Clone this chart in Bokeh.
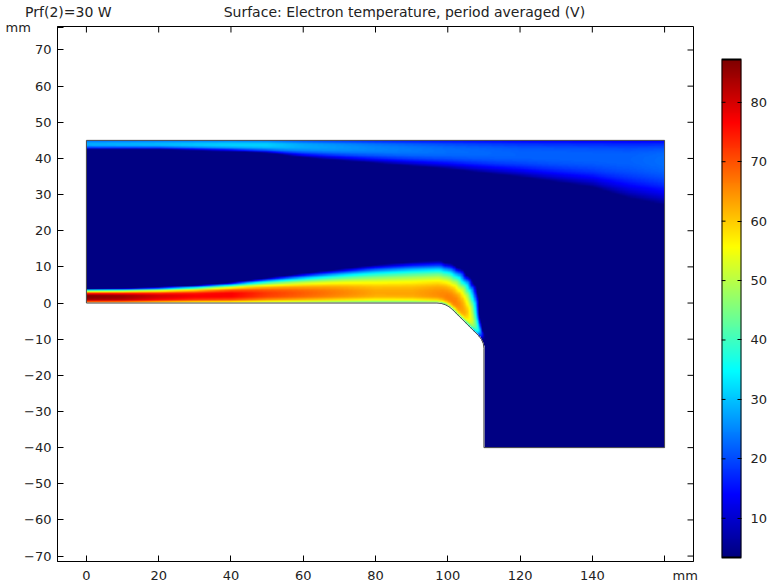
import numpy as np
from bokeh.plotting import figure
from bokeh.models import Range1d, LinearAxis, FixedTicker, LinearColorMapper
from bokeh.layouts import row
from bokeh.embed import file_html
from bokeh.resources import INLINE

# ---------------- data ----------------
title_left = "Prf(2)=30 W"
title_main = "Surface: Electron temperature, period averaged (V)"
unit_label = "mm"
x_ticks = [0, 20, 40, 60, 80, 100, 120, 140, 160]
x_tick_labels = ["0", "20", "40", "60", "80", "100", "120", "140", "\u00a0" * 10 + unit_label]
y_ticks = [-70, -60, -50, -40, -30, -20, -10, 0, 10, 20, 30, 40, 50, 60, 70]
y_unit_pos = 76.3
cbar_ticks = [10, 20, 30, 40, 50, 60, 70, 80]
cbar_low, cbar_high = 3.4, 87.2
bg_T = 3.9

# computational domain outline (mm)
dom_x = [0, 97, 98.17, 99.30, 100.33, 101.24, 108.59, 109.35, 109.84, 110, 110, 160, 160, 0]
dom_y = [0, 0, -0.115, -0.457, -1.011, -1.757, -9.09, -10.085, -11.25, -12.5, -40, -40, 45, 45]
n_wall = 11  # first vertices form the lower electrode wall

# hot jet along the lower wall: arc length s (mm), peak T, core distance, outer edge distance
jet_s    = [0, 10, 20, 30, 40, 50, 60, 70, 80, 90, 97, 99, 101, 105, 108, 111, 113.5]
jet_peak = [87, 85, 80, 77, 77, 72, 69, 66, 63, 63, 65, 66, 66, 62, 52, 35, 3.9]
jet_core = [1.8, 1.8, 1.9, 2.1, 2.4, 2.6, 2.7, 2.8, 2.8, 2.7, 2.5, 2.3, 2.0, 1.6, 1.2, 0.8, 0.5]
jet_edge = [3.9, 4.0, 4.3, 4.8, 5.6, 6.9, 8.1, 9.3, 10.5, 11.3, 11.6, 11.0, 9.6, 7.1, 4.3, 2.2, 0.8]

# warm layer under the top wall (y = 45): x, peak T, core depth, outer edge depth
top_x    = [0, 20, 40, 50, 60, 80, 100, 120, 140, 150, 160]
top_peak = [28, 29, 31, 31, 28, 25, 23, 22, 22, 22, 23]
top_core = [1.2, 1.2, 1.4, 1.5, 1.8, 2.5, 3.3, 4.2, 5.0, 5.5, 6.0]
top_edge = [2.6, 2.6, 3.1, 3.6, 4.8, 6.4, 8.0, 10.2, 13.0, 16.0, 18.0]

# ---------------- field construction ----------------
nx, ny = 800, 425
dx, dy = 160.0 / nx, 85.0 / ny
xc = (np.arange(nx) + 0.5) * dx
yc = -40 + (np.arange(ny) + 0.5) * dy
X, Y = np.meshgrid(xc, yc)


def inside(X, Y, px, py):
    res = np.zeros(X.shape, bool)
    n = len(px)
    j = n - 1
    for i in range(n):
        xi, yi, xj, yj = px[i], py[i], px[j], py[j]
        if yi != yj:
            cond = (yi > Y) != (yj > Y)
            xint = (xj - xi) * (Y - yi) / (yj - yi) + xi
            res ^= cond & (X < xint)
        j = i
    return res


def wall_coords(X, Y, wx, wy):
    best_d = np.full(X.shape, np.inf)
    best_s = np.zeros(X.shape)
    s0 = 0.0
    for k in range(len(wx) - 1):
        ax, ay, bx, by = wx[k], wy[k], wx[k + 1], wy[k + 1]
        vx, vy = bx - ax, by - ay
        L = np.hypot(vx, vy)
        t = np.clip(((X - ax) * vx + (Y - ay) * vy) / L ** 2, 0, 1)
        d = np.hypot(X - (ax + t * vx), Y - (ay + t * vy))
        m = d < best_d
        best_d[m] = d[m]
        best_s[m] = s0 + t[m] * L
        s0 += L
    return best_d, best_s


def profile(d, cr, ed, drop):
    inner = 1 - drop * np.clip((cr - d) / cr, 0, 1) ** 3
    u = np.clip((d - cr) / np.maximum(ed - cr, 0.1), 0, 1)
    outer = 1 - u ** 2
    return np.where(d < cr, inner, outer)


d, s = wall_coords(X, Y, dom_x[:n_wall], dom_y[:n_wall])
pk = np.interp(s, jet_s, jet_peak)
T_jet = bg_T + (pk - bg_T) * profile(d, np.interp(s, jet_s, jet_core), np.interp(s, jet_s, jet_edge), 0.42)

dt = 45 - Y
tpk = np.interp(X, top_x, top_peak)
T_top = bg_T + (tpk - bg_T) * profile(dt, np.interp(X, top_x, top_core), np.interp(X, top_x, top_edge), 0.55)

T = np.maximum(T_jet, T_top)
T[~inside(X, Y, dom_x, dom_y)] = np.nan


# jet colormap
def jet_hex(n=256):
    out = []
    for t in np.linspace(0, 1, n):
        r = np.clip(1.5 - abs(4 * t - 3), 0, 1)
        g = np.clip(1.5 - abs(4 * t - 2), 0, 1)
        b = np.clip(1.5 - abs(4 * t - 1), 0, 1)
        out.append("#%02x%02x%02x" % (int(r * 255), int(g * 255), int(b * 255)))
    return out


palette = jet_hex()
mapper = LinearColorMapper(palette=palette, low=cbar_low, high=cbar_high, nan_color=(0, 0, 0, 0))

FONT = "DejaVu Sans"
FS = "13px"
FS_TITLE = "14px"
TXT = "#222222"

# frame geometry (px)
X0, X1, Y0, Y1 = -8.0, 168.0, -71.5, 76.5
FL, FT, FW, FH = 57, 26, 636, 535
tick_dx = 6 * (X1 - X0) / FW
tick_dy = 6 * (Y1 - Y0) / FH

# ---------------- main plot ----------------
p = figure(width=700, height=586, x_range=Range1d(X0, X1), y_range=Range1d(Y0, Y1),
           output_backend="svg", toolbar_location=None,
           min_border_left=FL, min_border_right=7, min_border_top=FT, min_border_bottom=25)
p.xgrid.visible = False
p.ygrid.visible = False
p.outline_line_color = "black"
p.background_fill_color = "white"
p.border_fill_color = "white"

p.image(image=[T], x=0, y=-40, dw=160, dh=85, color_mapper=mapper)
p.patch(dom_x, dom_y, fill_color=None, line_color="#4a4a4a", line_width=1)

for ax in p.xaxis:
    ax.ticker = FixedTicker(ticks=x_ticks)
    ax.major_label_overrides = {t: l for t, l in zip(x_ticks, x_tick_labels)}
    ax.major_label_standoff = 6
for ax in p.yaxis:
    ax.ticker = FixedTicker(ticks=y_ticks + [y_unit_pos])
    ax.major_label_overrides = {y_unit_pos: unit_label + "\u00a0" * 5}
    ax.major_label_standoff = 6
for ax in list(p.xaxis) + list(p.yaxis):
    ax.major_tick_in = 6
    ax.major_tick_out = 0
    ax.minor_tick_line_color = None
    ax.axis_line_color = "black"
    ax.major_tick_line_color = "black"
    ax.major_label_text_font = FONT
    ax.major_label_text_font_size = FS
    ax.major_label_text_color = TXT

# inward ticks on top and right frame edges
p.segment(x0=x_ticks, y0=[Y1] * len(x_ticks), x1=x_ticks, y1=[Y1 - tick_dy] * len(x_ticks),
          line_color="black", line_width=1)
p.segment(x0=[X1] * len(y_ticks), y0=y_ticks, x1=[X1 - tick_dx] * len(y_ticks), y1=y_ticks,
          line_color="black", line_width=1)

# titles as an unticked axis above the frame
title_pos = [-5.0, 88.0]
title_ax = LinearAxis(ticker=FixedTicker(ticks=title_pos),
                      major_label_overrides={title_pos[0]: title_left, title_pos[1]: title_main},
                      major_tick_line_color=None, minor_tick_line_color=None, axis_line_color=None,
                      major_tick_in=0, major_tick_out=0,
                      major_label_standoff=7, major_label_text_font=FONT,
                      major_label_text_font_size=FS_TITLE, major_label_text_color=TXT)
p.add_layout(title_ax, "above")

# ---------------- colour bar ----------------
bar_top_px, bar_bot_px = 59, 557
upp = (cbar_high - cbar_low) / (bar_bot_px - bar_top_px)
cb_top = cbar_high + (bar_top_px - FT) * upp
cb_bot = cbar_low - (FT + FH - bar_bot_px) * upp

cb = figure(width=71, height=586, x_range=Range1d(0, 1), y_range=Range1d(cb_bot, cb_top),
            output_backend="svg", toolbar_location=None, x_axis_location=None, y_axis_location="right",
            min_border_left=21, min_border_right=30, min_border_top=FT, min_border_bottom=25)
cb.xgrid.visible = False
cb.ygrid.visible = False
cb.outline_line_color = None
cb.border_fill_color = "white"
cb.background_fill_color = "white"
ramp = np.linspace(cbar_low, cbar_high, 512).reshape(512, 1)
cb.image(image=[ramp], x=0, y=cbar_low, dw=1, dh=cbar_high - cbar_low, color_mapper=mapper)
cb.quad(left=[0], right=[1], bottom=[cbar_low], top=[cbar_high], fill_color=None,
        line_color="black", line_width=2)
cb.segment(x0=[0] * len(cbar_ticks), y0=cbar_ticks, x1=[0.2] * len(cbar_ticks), y1=cbar_ticks,
           line_color="black", line_width=1)
for ax in cb.yaxis:
    ax.ticker = FixedTicker(ticks=cbar_ticks)
    ax.major_tick_in = 4
    ax.major_tick_out = 0
    ax.major_tick_line_color = "black"
    ax.minor_tick_line_color = None
    ax.axis_line_color = None
    ax.major_label_standoff = 9
    ax.major_label_text_font = FONT
    ax.major_label_text_font_size = FS
    ax.major_label_text_color = TXT

layout = row(p, cb)
open("out.html", "w").write(file_html(layout, INLINE))
